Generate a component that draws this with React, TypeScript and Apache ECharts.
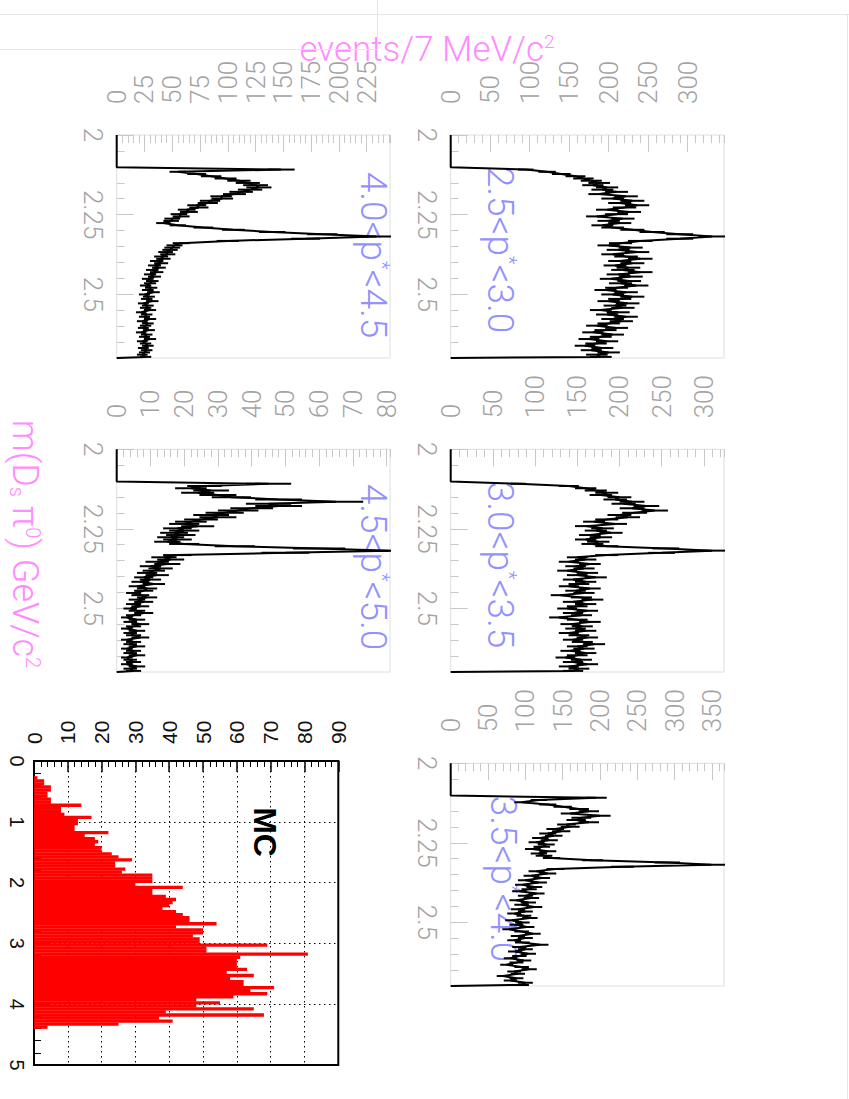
import React, { useEffect, useRef } from "react";
import * as echarts from "echarts";

// ---------- data ----------
const MASS_MIN = 2.0;
const MASS_MAX = 2.7;
const MASS_BIN = 0.007; // 7 MeV bins

const countsP25to30 = [
  0, 0, 0, 0, 0, 0, 0, 0, 0, 0,
  0, 0, 0, 0, 0, 95, 122, 140, 158, 168,
  178, 188, 180, 198, 192, 210, 188, 222, 205, 230,
  214, 236, 220, 198, 226, 210, 185, 218, 200, 214,
  192, 205, 230, 255, 290, 331, 290, 240, 215, 200,
  228, 212, 236, 205, 222, 240, 214, 230, 208, 225,
  218, 240, 212, 228, 203, 226, 215, 235, 210, 196,
  222, 205, 230, 214, 200, 224, 208, 218, 190, 212,
  198, 222, 205, 216, 200, 185, 210, 196, 180, 205,
  190, 175, 198, 184, 170, 192, 178, 200, 185, 190,
];
const countsP30to35 = [
  0, 0, 0, 0, 0, 0, 0, 0, 0, 0,
  0, 0, 0, 0, 0, 80, 140, 160, 172, 185,
  178, 200, 195, 215, 205, 232, 215, 242, 218, 200,
  210, 185, 170, 195, 160, 180, 172, 190, 165, 178,
  160, 175, 168, 185, 255, 310, 250, 185, 150, 160,
  140, 165, 148, 158, 138, 162, 150, 172, 145, 160,
  152, 140, 165, 148, 158, 130, 155, 168, 145, 160,
  150, 138, 162, 145, 155, 128, 150, 165, 142, 156,
  148, 160, 140, 152, 162, 145, 156, 170, 150, 158,
  142, 160, 150, 136, 155, 145, 162, 140, 152, 145,
];
const countsP35to40 = [
  0, 0, 0, 0, 0, 0, 0, 0, 0, 0,
  0, 0, 0, 0, 0, 195, 118, 95, 130, 150,
  172, 185, 160, 200, 175, 168, 185, 155, 160, 140,
  148, 130, 138, 120, 132, 115, 128, 122, 110, 130,
  118, 125, 135, 190, 290, 349, 230, 140, 115, 130,
  108, 122, 100, 118, 96, 112, 105, 92, 115, 100,
  108, 88, 104, 95, 112, 90, 100, 85, 98, 106,
  82, 96, 88, 102, 78, 95, 110, 90, 100, 85,
  96, 120, 92, 100, 86, 104, 92, 80, 98, 88,
  75, 95, 105, 85, 90, 70, 88, 80, 100, 95,
];
const countsP40to45 = [
  0, 0, 0, 0, 0, 0, 0, 0, 0, 0,
  0, 0, 0, 0, 0, 148, 55, 72, 85, 98,
  110, 118, 125, 128, 120, 112, 106, 94, 95, 84,
  82, 72, 74, 63, 65, 56, 58, 50, 49, 42,
  55, 78, 105, 140, 185, 234, 170, 100, 58, 52,
  50, 48, 44, 46, 40, 42, 36, 40, 34, 38,
  32, 36, 30, 34, 28, 32, 30, 26, 31, 28,
  33, 25, 29, 27, 32, 24, 28, 26, 30, 22,
  27, 25, 30, 23, 28, 26, 24, 29, 22, 27,
  25, 30, 23, 26, 28, 24, 27, 25, 23, 26,
];
const countsP45to50 = [
  0, 0, 0, 0, 0, 0, 0, 0, 0, 0,
  0, 0, 0, 0, 0, 45, 26, 22, 28, 24,
  30, 34, 48, 65, 45, 48, 40, 36, 32, 28,
  30, 25, 22, 20, 24, 18, 20, 17, 19, 16,
  18, 15, 20, 35, 60, 81, 50, 18, 14, 16,
  12, 15, 10, 13, 11, 9, 12, 8, 10, 7,
  11, 6, 9, 8, 5, 7, 9, 6, 8, 5,
  7, 4, 6, 8, 5, 3, 6, 4, 7, 5,
  3, 6, 4, 5, 7, 3, 5, 4, 6, 3,
  5, 4, 6, 3, 4, 5, 3, 6, 4, 5,
];

const panelCounts = [countsP25to30, countsP30to35, countsP35to40, countsP40to45, countsP45to50];
const panelTitles = [
  "{n|2.5<p}{s|*}{n|<3.0}",
  "{n|3.0<p}{s|*}{n|<3.5}",
  "{n|3.5<p}{s|*}{n|<4.0}",
  "{n|4.0<p}{s|*}{n|<4.5}",
  "{n|4.5<p}{s|*}{n|<5.0}",
];
const countAxisMax = [346, 324, 366, 246, 81];
const countAxisMajor = [50, 50, 50, 25, 10];
const countAxisMinor = [10, 10, 10, 5, 2];
const massMajorStep = 0.25;
const massMinorStep = 0.05;

// MC momentum spectrum (GeV/c), 0.05 bins
const MC_BIN = 0.05;
const mcCounts = [
  0, 0, 0, 0, 0, 1, 3, 3, 5, 5,
  4, 4, 5, 5, 14, 8, 8, 9, 17, 13,
  13, 12, 12, 22, 15, 18, 19, 18, 20, 20,
  23, 25, 29, 24, 24, 27, 26, 35, 35, 35,
  30, 44, 35, 35, 39, 42, 41, 40, 38, 42,
  44, 46, 46, 54, 42, 50, 50, 47, 49, 49,
  69, 51, 51, 81, 61, 60, 60, 60, 63, 57,
  65, 58, 62, 62, 71, 64, 69, 59, 48, 55,
  48, 65, 39, 68, 37, 41, 25, 4, 0, 0,
  0, 0, 0, 0, 0, 0, 0, 0, 0, 0,
];
const mcCountMax = 90;
const mcCountStep = 10;
const mcMomMax = 5;
const mcMomStep = 1;

// ---------- style ----------
const FONT = "Roboto";
const GRAY_LABEL = "#a3a3a3";
const GRAY_TICK = "#c8c8c8";
const FRAME = "#dedede";
const PINK = "#ff8cff";
const BLUE = "#9191ff";
const TICK_FONT = 26;

const panelGrids = [
  { left: 450.7, top: 135, width: 273.3, height: 223 },
  { left: 450.7, top: 449.3, width: 273.3, height: 222.7 },
  { left: 450.7, top: 763.3, width: 273.3, height: 222.7 },
  { left: 116.7, top: 135, width: 273.3, height: 223 },
  { left: 116.7, top: 449.3, width: 273.3, height: 222.7 },
];
const mcGrid = { left: 34, top: 761, width: 304.3, height: 304 };
const titlePos = [
  [500, 250],
  [500, 565],
  [503, 879],
  [373, 255],
  [373, 567],
];

function buildOption() {
  const grid: any[] = [];
  const xAxis: any[] = [];
  const yAxis: any[] = [];
  const series: any[] = [];
  const graphic: any[] = [];

  panelCounts.forEach((counts, i) => {
    grid.push({
      ...panelGrids[i],
      show: true,
      borderColor: FRAME,
      borderWidth: 1,
      backgroundColor: "transparent",
      outerBoundsMode: "none",
    });
    const g = i;
    xAxis.push({
      type: "value",
      gridIndex: g,
      position: "top",
      min: 0,
      max: countAxisMax[i],
      interval: countAxisMajor[i],
      axisLine: { show: false, onZero: false },
      axisTick: { show: true, inside: true, length: 17, lineStyle: { color: GRAY_TICK, width: 1 } },
      axisLabel: {
        show: true,
        rotate: -90,
        margin: 31,
        color: GRAY_LABEL,
        fontSize: TICK_FONT,
        fontFamily: FONT,
        fontWeight: 300,
        showMaxLabel: false,
        formatter: (v: number) =>
          Math.abs(v / countAxisMajor[i] - Math.round(v / countAxisMajor[i])) < 1e-6 ? String(v) : "",
      },
      splitLine: { show: false },
    });
    xAxis.push({
      type: "value",
      gridIndex: g,
      position: "top",
      min: 0,
      max: countAxisMax[i],
      interval: countAxisMinor[i],
      axisLine: { show: false, onZero: false },
      axisTick: { show: true, inside: true, length: 8, lineStyle: { color: GRAY_TICK, width: 1 } },
      axisLabel: { show: false },
      splitLine: { show: false },
    });
    yAxis.push({
      type: "value",
      gridIndex: g,
      position: "left",
      inverse: true,
      min: MASS_MIN,
      max: MASS_MAX,
      interval: massMajorStep,
      axisLine: { show: false, onZero: false },
      axisTick: { show: true, inside: true, length: 17, lineStyle: { color: GRAY_TICK, width: 1 } },
      axisLabel: {
        show: true,
        rotate: -90,
        margin: 11,
        color: GRAY_LABEL,
        fontSize: TICK_FONT,
        fontFamily: FONT,
        fontWeight: 300,
        showMaxLabel: false,
      },
      splitLine: { show: false },
    });
    yAxis.push({
      type: "value",
      gridIndex: g,
      position: "left",
      inverse: true,
      min: MASS_MIN,
      max: MASS_MAX,
      interval: massMinorStep,
      axisLine: { show: false, onZero: false },
      axisTick: { show: true, inside: true, length: 8, lineStyle: { color: GRAY_TICK, width: 1 } },
      axisLabel: { show: false },
      splitLine: { show: false },
    });

    const pts = counts.map((v, k) => [v, MASS_MIN + (k + 0.5) * MASS_BIN]);
    series.push({
      type: "line",
      xAxisIndex: 2 * i,
      yAxisIndex: 2 * i,
      data: [[0, MASS_MIN], ...pts, [0, MASS_MAX]],
      showSymbol: false,
      symbol: "none",
      lineStyle: { color: "#000", width: 2 },
      silent: true,
      clip: true,
      z: 3,
    });
    series.push({
      type: "custom",
      xAxisIndex: 2 * i,
      yAxisIndex: 2 * i,
      data: pts,
      encode: { x: 0, y: 1 },
      clip: true,
      silent: true,
      z: 3,
      renderItem: (params: any, api: any) => {
        const v = api.value(0);
        const m = api.value(1);
        if (!(v > 0)) return null;
        const e = Math.sqrt(v);
        const p1 = api.coord([v - e, m]);
        const p2 = api.coord([v + e, m]);
        return {
          type: "line",
          shape: { x1: p1[0], y1: p1[1], x2: p2[0], y2: p2[1] },
          style: { stroke: "#000", lineWidth: 2 },
        };
      },
    });

    graphic.push({
      type: "text",
      x: titlePos[i][0],
      y: titlePos[i][1],
      rotation: -Math.PI / 2,
      silent: true,
      style: {
        text: panelTitles[i],
        align: "center",
        verticalAlign: "middle",
        fill: BLUE,
        rich: {
          n: { fontSize: 37, fontFamily: FONT, fontWeight: 300, fill: BLUE, color: BLUE },
          s: { fontSize: 20, fontFamily: FONT, fontWeight: 300, fill: BLUE, color: BLUE, verticalAlign: "top" },
        },
      },
    });
  });

  // ---- MC panel ----
  const mg = grid.length;
  grid.push({
    ...mcGrid,
    show: true,
    borderColor: "#000",
    borderWidth: 2,
    backgroundColor: "transparent",
    outerBoundsMode: "none",
  });
  const mx = xAxis.length;
  xAxis.push({
    type: "value",
    gridIndex: mg,
    position: "top",
    min: 0,
    max: mcCountMax,
    interval: mcCountStep,
    axisLine: { show: true, onZero: false, lineStyle: { color: "#000", width: 2 } },
    axisTick: { show: true, inside: true, length: 11, lineStyle: { color: "#000", width: 1.5 } },
    minorTick: { show: true, splitNumber: 5, length: 6, lineStyle: { color: "#000", width: 1 } },
    axisLabel: {
      show: true,
      rotate: -90,
      margin: 17,
      color: "#111",
      fontSize: 21,
      fontFamily: "Liberation Sans",
    },
    splitLine: { show: true, lineStyle: { color: "#000", type: [1.5, 3.5], width: 1 } },
  });
  const my = yAxis.length;
  yAxis.push({
    type: "value",
    gridIndex: mg,
    position: "left",
    inverse: true,
    min: 0,
    max: mcMomMax,
    interval: mcMomStep,
    axisLine: { show: true, onZero: false, lineStyle: { color: "#000", width: 2 } },
    axisTick: { show: true, inside: true, length: 15, lineStyle: { color: "#000", width: 1.5 } },
    minorTick: { show: true, splitNumber: 5, length: 7, lineStyle: { color: "#000", width: 1 } },
    axisLabel: {
      show: true,
      rotate: -90,
      margin: 7,
      color: "#111",
      fontSize: 20,
      fontFamily: "Liberation Sans",
    },
    splitLine: { show: true, lineStyle: { color: "#000", type: [1.5, 3.5], width: 1 } },
  });
  series.push({
    type: "custom",
    xAxisIndex: mx,
    yAxisIndex: my,
    data: mcCounts.map((v, k) => [v, k * MC_BIN, (k + 1) * MC_BIN]),
    encode: { x: 0, y: [1, 2] },
    clip: true,
    silent: true,
    z: 1,
    renderItem: (params: any, api: any) => {
      const v = api.value(0);
      const lo = api.value(1);
      const hi = api.value(2);
      if (!(v > 0)) return null;
      const p0 = api.coord([0, lo]);
      const p1 = api.coord([v, hi]);
      return {
        type: "rect",
        shape: {
          x: p0[0],
          y: Math.min(p0[1], p1[1]),
          width: p1[0] - p0[0],
          height: Math.abs(p1[1] - p0[1]) + 0.3,
        },
        style: { fill: "#ff0000", stroke: null },
      };
    },
  });

  graphic.push({
    type: "text",
    x: 265,
    y: 832,
    rotation: -Math.PI / 2,
    silent: true,
    style: {
      text: "MC",
      align: "center",
      verticalAlign: "middle",
      fill: "#000",
      fontSize: 32,
      fontWeight: "bold",
      fontFamily: "Liberation Sans",
    },
  });

  graphic.push({
    type: "text",
    x: 427,
    y: 49,
    silent: true,
    style: {
      text: "{n|events/7 MeV/c}{s|2}",
      align: "center",
      verticalAlign: "middle",
      fill: PINK,
      rich: {
        n: { fontSize: 35, fontFamily: FONT, fontWeight: 300, fill: PINK, color: PINK },
        s: { fontSize: 19, fontFamily: FONT, fontWeight: 300, fill: PINK, color: PINK, verticalAlign: "top" },
      },
    },
  });
  graphic.push({
    type: "text",
    x: 25,
    y: 544,
    rotation: -Math.PI / 2,
    silent: true,
    style: {
      text: "{n|m(D}{b|s}{n| π}{s|0}{n|) GeV/c}{s|2}",
      align: "center",
      verticalAlign: "middle",
      fill: PINK,
      rich: {
        n: { fontSize: 36, fontFamily: FONT, fontWeight: 300, fill: PINK, color: PINK },
        s: { fontSize: 20, fontFamily: FONT, fontWeight: 300, fill: PINK, color: PINK, verticalAlign: "top" },
        b: { fontSize: 20, fontFamily: FONT, fontWeight: 300, fill: PINK, color: PINK, verticalAlign: "bottom" },
      },
    },
  });

  const faint = { stroke: "#e6e6e6", lineWidth: 1 };
  graphic.push({ type: "line", silent: true, shape: { x1: 0, y1: 14.5, x2: 849, y2: 14.5 }, style: faint });
  graphic.push({ type: "line", silent: true, shape: { x1: 377.5, y1: 0, x2: 377.5, y2: 49 }, style: faint });
  graphic.push({ type: "line", silent: true, shape: { x1: 0, y1: 49.5, x2: 377.5, y2: 49.5 }, style: faint });
  graphic.push({ type: "line", silent: true, shape: { x1: 847.5, y1: 14.5, x2: 847.5, y2: 1099 }, style: faint });

  return {
    animation: false,
    backgroundColor: "#ffffff",
    grid,
    xAxis,
    yAxis,
    series,
    graphic,
  };
}

export default function App() {
  const ref = useRef<HTMLDivElement>(null);
  useEffect(() => {
    if (!ref.current) return;
    const chart = echarts.init(ref.current, undefined, { renderer: "svg" });
    chart.setOption(buildOption() as any);
    return () => {
      chart.dispose();
    };
  }, []);
  return (
    <div
      ref={ref}
      style={{ position: "fixed", left: 0, top: 0, width: 849, height: 1099, background: "#fff" }}
    />
  );
}
